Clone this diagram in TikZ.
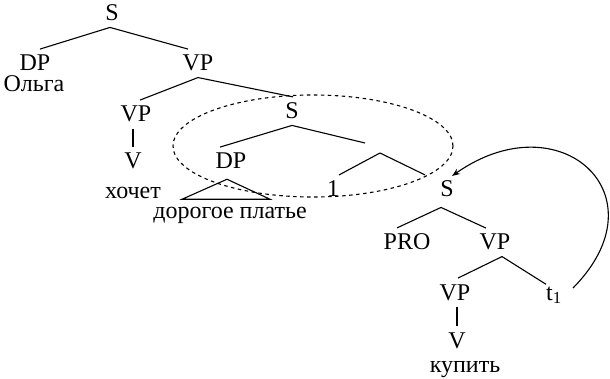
\documentclass[tikz,border=0pt]{standalone}
\usepackage{fontspec}
\setmainfont{Liberation Serif}
\usetikzlibrary{arrows.meta}
\begin{document}
\begin{tikzpicture}[x=1pt,y=-1pt,
  lbl/.style={anchor=base, inner xsep=0pt, inner ysep=6pt, font=\fontsize{24}{28}\selectfont},
  word/.style={anchor=base, inner sep=0pt, font=\fontsize{24}{28}\selectfont},
  branch/.style={line width=1.1pt},
  ring/.style={line width=1.1pt, dash pattern=on 3.5pt off 3.5pt},
  move/.style={line width=1.1pt, -{Stealth[length=8pt,width=6pt]}}]
\useasboundingbox (0,0) rectangle (610,379);

% category labels and words
\node[lbl]  (rootS) at (112,21)  {S};
\node[word] (dpA)   at (35,71)   {DP};
\node[word] (olga)  at (34,92)   {Ольга};
\node[lbl]  (vpA)   at (198,71)  {VP};
\node[lbl]  (vpB)   at (136,122) {VP};
\node[lbl]  (vB)    at (133,169) {V};
\node[word] (want)  at (133,199) {хочет};
\node[lbl]  (sB)    at (292,119) {S};
\node[lbl]  (dpB)   at (231,169) {DP};
\node[word] (dress) at (230,219) {дорогое платье};
\node[lbl]  (one)   at (333,197) {1};
\node[lbl]  (sC)    at (447,197) {S};
\node[lbl]  (pro)   at (407,250) {PRO};
\node[lbl]  (vpC)   at (495,250) {VP};
\node[lbl]  (vpD)   at (455,300) {VP};
\node[lbl]  (trace) at (554,300) {t\textsubscript{1}};
\node[lbl]  (vD)    at (457,348) {V};
\node[word] (buy)   at (465,372) {купить};

% unlabeled intermediate node
\coordinate (barTop) at (365,143);
\coordinate (barBot) at (380,153);

% branches
\draw[branch] ([xshift=-2pt]rootS.south) -- ([xshift=5pt,yshift=6pt]dpA.north);
\draw[branch] ([xshift=-2pt]rootS.south) -- ([xshift=-10pt]vpA.north);
\draw[branch] (vpA.south) -- ([xshift=4pt]vpB.north);
\draw[branch] (vpA.south) -- ([xshift=1pt]sB.north);
\draw[branch] ([xshift=-3pt]vpB.south) -- (vB.north);
\draw[branch] (sB.south) -- ([xshift=-11pt]dpB.north);
\draw[branch] (sB.south) -- (barTop);
\draw[branch] (barBot) -- ([xshift=6pt]one.north);
\draw[branch] (barBot) -- ([xshift=-22pt]sC.north);
\draw[branch] ([xshift=-4pt,yshift=-4pt]dpB.south) -- ++(-45,20) -- ++(88,0) -- cycle;
\draw[branch] ([xshift=-6pt,yshift=-4pt]sC.south) -- ([xshift=-10pt]pro.north);
\draw[branch] ([xshift=-6pt,yshift=-4pt]sC.south) -- ([xshift=-9pt]vpC.north);
\draw[branch] ([xshift=7pt]vpC.south) -- ([xshift=3pt]vpD.north);
\draw[branch] ([xshift=7pt]vpC.south) -- ([xshift=-8pt,yshift=-4pt]trace.north);
\draw[branch] ([xshift=2pt]vpD.south) -- (vD.north);

% dotted ring round the embedded clause
\draw[ring] (313,146) ellipse [x radius=140pt, y radius=51pt];

% movement arrow
\draw[move] ([xshift=19pt,yshift=12pt]trace.base) .. controls (665,195) and (560,100) .. ([xshift=5pt,yshift=21pt]sC.base);
\end{tikzpicture}
\end{document}
